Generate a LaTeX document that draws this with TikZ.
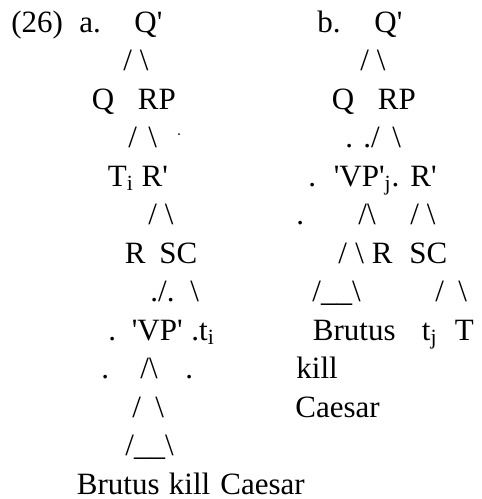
\documentclass[tikz,border=0pt]{standalone}
\usepackage{fontspec}
\setmainfont{Liberation Serif}
% straight apostrophe, kept out of the TeX quote mapping
\newcommand{\prm}{\XeTeXglyph\XeTeXcharglyph"27\relax}
\newcommand{\bsl}{\textbackslash}

\begin{document}
\begin{tikzpicture}[x=0.5pt,y=-0.5pt,
    word/.style={inner sep=0pt,anchor=base west,font=\fontsize{15.5}{18}\selectfont}]
    \useasboundingbox (0,0) rectangle (482,499);

    % baselines of the text lines
    \newcommand{\LineA}{32}
    \newcommand{\LineB}{70.5}
    \newcommand{\LineC}{109}
    \newcommand{\LineD}{147.5}
    \newcommand{\LineE}{186}
    \newcommand{\LineF}{224.5}
    \newcommand{\LineG}{263}
    \newcommand{\LineH}{301.5}
    \newcommand{\LineI}{340}
    \newcommand{\LineJ}{378.5}
    \newcommand{\LineK}{417}
    \newcommand{\LineL}{455.5}
    \newcommand{\LineM}{494}

    % tree a
    \node[word] (num) at (11,\LineA) {(26)};
    \node[word] (labA) at (79,\LineA) {a.};
    \node[word] (aQbar) at (134,\LineA) {Q\prm};
    \node[word] (aQbarS) at (123,\LineB) {/ \bsl};
    \node[word] (aQ) at (91.5,\LineC) {Q};
    \node[word] (aRP) at (137.5,\LineC) {RP};
    \node[word] (aRPl) at (128,\LineD) {/};
    \node[word] (aRPr) at (148,\LineD) {\bsl};
    \fill (179,134) circle (1);
    \node[word] (aT) at (107.5,\LineE) {T\textsubscript{i} R\prm};
    \node[word] (aRbarS) at (148,\LineF) {/ \bsl};
    \node[word] (aR) at (124.5,\LineG) {R};
    \node[word] (aSC) at (159,\LineG) {SC};
    \node[word] (aSCl) at (150,\LineH) {./.};
    \node[word] (aSCr) at (190,\LineH) {\bsl};
    \node[word] (aDotA) at (108,\LineI) {.};
    \node[word] (aVP) at (131.5,\LineI) {\prm VP\prm};
    \node[word] (aTr) at (191,\LineI) {.t\textsubscript{i}};
    \node[word] (aDotB) at (101,\LineJ) {.};
    \node[word] (aVPs) at (140,\LineJ) {/\bsl};
    \node[word] (aDotC) at (185,\LineJ) {.};
    \node[word] (aVPl) at (132,\LineK) {/};
    \node[word] (aVPr) at (155,\LineK) {\bsl};
    \node[word] (aRoof) at (125,\LineL) {/\_\_\bsl};
    \node[word] (aBrutus) at (76.5,\LineM) {Brutus};
    \node[word] (aKill) at (168.5,\LineM) {kill};
    \node[word] (aCaesar) at (220,\LineM) {Caesar};

    % tree b
    \node[word] (labB) at (317,\LineA) {b.};
    \node[word] (bQbar) at (374,\LineA) {Q\prm};
    \node[word] (bQbarS) at (360,\LineB) {/ \bsl};
    \node[word] (bQ) at (331.5,\LineC) {Q};
    \node[word] (bRP) at (377.5,\LineC) {RP};
    \node[word] (bRPl) at (345,\LineD) {. ./};
    \node[word] (bRPr) at (392,\LineD) {\bsl};
    \node[word] (bDotA) at (308,\LineE) {.};
    \node[word] (bVP) at (333.5,\LineE) {\prm VP\prm\textsubscript{j}.};
    \node[word] (bRbar) at (410,\LineE) {R\prm};
    \node[word] (bDotB) at (296,\LineF) {.};
    \node[word] (bVPs) at (358,\LineF) {/\bsl};
    \node[word] (bRbarS) at (410,\LineF) {/ \bsl};
    \node[word] (bVPl) at (338,\LineG) {/};
    \node[word] (bVPr) at (355,\LineG) {\bsl};
    \node[word] (bR) at (371.5,\LineG) {R};
    \node[word] (bSC) at (409,\LineG) {SC};
    \node[word] (bRoof) at (312,\LineH) {/\_\_\bsl};
    \node[word] (bSCl) at (435,\LineH) {/};
    \node[word] (bSCr) at (458,\LineH) {\bsl};
    \node[word] (bBrutus) at (312.5,\LineI) {Brutus};
    \node[word] (bTrace) at (421.5,\LineI) {t\textsubscript{j}};
    \node[word] (bT) at (454.5,\LineI) {T};
    \node[word] (bKill) at (296,\LineJ) {kill};
    \node[word] (bCaesar) at (295,\LineK) {Caesar};

  \end{tikzpicture}
\end{document}
